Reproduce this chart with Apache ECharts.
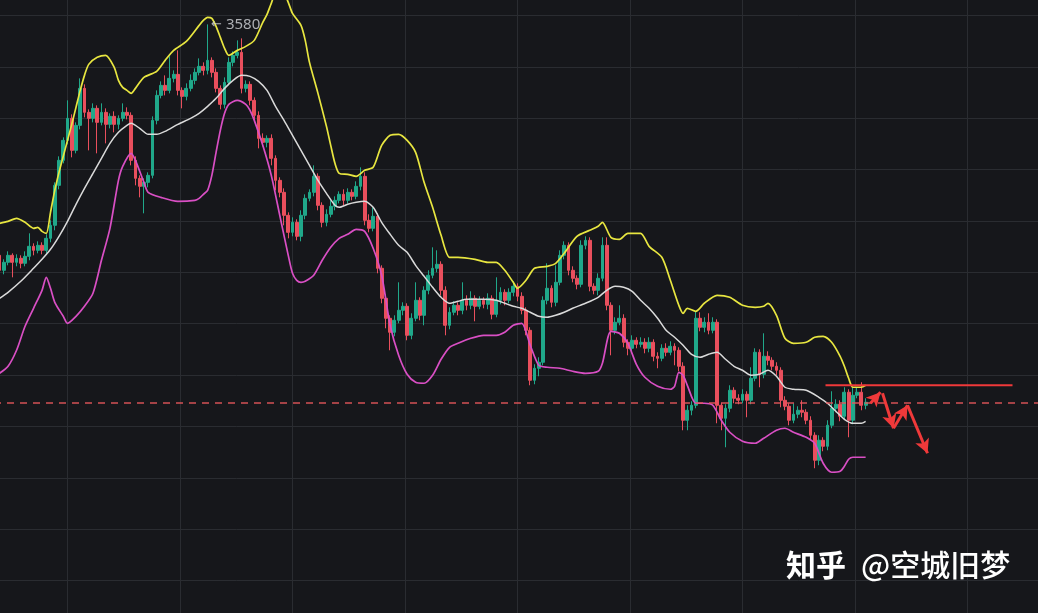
<!DOCTYPE html>
<html>
<head>
<meta charset="utf-8">
<script src="https://cdn.jsdelivr.net/npm/echarts@6/dist/echarts.min.js"></script>
<style>
  html, body { margin: 0; padding: 0; background: #16171b; overflow: hidden; width: 1038px; height: 613px; }
  /* the plot area runs a little past the window so the price grid lines fall on their usual spots */
  #chart { position: absolute; left: -45px; top: -36px; width: 1125px; height: 668px; }
</style>
</head>
<body>
<div id="chart"></div>
<script>
// Candle slots on the time axis; the first drawn candle sits in slot START.
const START = 10;
const SLOTS = 265;

// Price series: each candle opens at the previous close.
const firstOpen = 3118;
const closes = [
  3088, 3104, 3118, 3104, 3112, 3102, 3116, 3136, 3128, 3138,
  3128, 3152, 3178, 3258, 3308, 3348, 3392, 3328, 3378, 3452,
  3404, 3392, 3412, 3384, 3404, 3380, 3396, 3380, 3392, 3404,
  3398, 3308, 3272, 3256, 3264, 3278, 3388, 3438, 3458, 3448,
  3472, 3480, 3448, 3436, 3452, 3468, 3484, 3496, 3488, 3508,
  3484, 3452, 3420, 3464, 3504, 3518, 3524, 3452, 3460, 3428,
  3398, 3352, 3344, 3352, 3312, 3268, 3244, 3198, 3164, 3184,
  3156, 3198, 3232, 3244, 3276, 3218, 3184, 3200, 3216, 3228,
  3240, 3228, 3244, 3236, 3256, 3276, 3188, 3172, 3196, 3092,
  3032, 2992, 2964, 2988, 3008, 3016, 2958, 2992, 3028, 2998,
  3048, 3078, 3092, 3100, 3048, 2978, 3004, 3018, 3008, 3028,
  3018, 3032, 3016, 3028, 3020, 3032, 3000, 3028, 3044, 3028,
  3044, 3056, 3036, 3008, 2968, 2868, 2892, 2904, 3028, 3052,
  3024, 3064, 3118, 3138, 3088, 3072, 3060, 3138, 3148, 3056,
  3048, 3072, 3138, 3018, 2968, 2984, 2992, 2944, 2932, 2948,
  2940, 2944, 2932, 2944, 2916, 2912, 2932, 2924, 2936, 2928,
  2896, 2788, 2808, 2818, 2992, 2974, 2984, 2968, 2984, 2818,
  2792, 2812, 2848, 2832, 2828, 2840, 2828, 2872, 2924, 2880,
  2916, 2908, 2896, 2888, 2828, 2816, 2788, 2800, 2808, 2804,
  2788, 2758, 2708, 2748, 2736, 2778, 2812, 2820, 2796, 2844,
  2788, 2838, 2844, 2818, 2824
];
// Shadow lengths above the body top and below the body bottom.
const wickUp = [
  10, 6, 8, 4, 8, 6, 10, 26, 6, 8,
  6, 8, 10, 6, 8, 6, 36, 8, 6, 20,
  8, 6, 10, 6, 18, 8, 6, 10, 6, 18,
  10, 6, 8, 6, 8, 6, 8, 10, 8, 20,
  44, 8, 48, 6, 10, 12, 8, 16, 8, 72,
  6, 8, 6, 10, 10, 8, 24, 28, 8, 6,
  6, 8, 10, 6, 8, 6, 6, 8, 6, 10,
  6, 10, 8, 6, 22, 6, 6, 10, 12, 8,
  6, 10, 8, 6, 10, 18, 8, 12, 18, 6,
  6, 8, 6, 10, 56, 8, 6, 10, 36, 6,
  8, 10, 42, 28, 6, 8, 10, 8, 6, 36,
  10, 14, 6, 8, 6, 10, 6, 46, 10, 6,
  8, 10, 6, 8, 6, 6, 8, 10, 8, 50,
  6, 34, 10, 8, 6, 8, 6, 10, 8, 6,
  6, 10, 16, 16, 6, 10, 26, 8, 6, 10,
  6, 10, 8, 10, 6, 8, 8, 10, 10, 6,
  6, 8, 10, 8, 14, 12, 10, 18, 10, 6,
  6, 8, 10, 6, 8, 10, 6, 22, 8, 6,
  46, 10, 6, 8, 6, 8, 6, 22, 8, 20,
  6, 8, 6, 10, 6, 10, 34, 10, 8, 10,
  6, 16, 10, 20, 8
];
const wickDown = [
  16, 8, 6, 30, 8, 10, 6, 8, 10, 6,
  8, 6, 8, 10, 8, 6, 8, 14, 6, 8,
  10, 64, 8, 62, 6, 38, 8, 16, 10, 6,
  8, 10, 14, 22, 54, 10, 6, 8, 6, 10,
  6, 8, 10, 24, 8, 6, 8, 6, 10, 8,
  10, 8, 10, 8, 6, 8, 6, 10, 8, 10,
  10, 20, 8, 10, 14, 20, 10, 20, 12, 8,
  8, 10, 8, 6, 8, 10, 10, 8, 6, 8,
  6, 10, 6, 8, 6, 8, 10, 8, 6, 10,
  10, 20, 36, 8, 6, 10, 10, 8, 6, 10,
  20, 8, 6, 8, 10, 20, 8, 6, 10, 8,
  10, 8, 30, 6, 8, 10, 10, 6, 8, 10,
  6, 8, 10, 8, 10, 10, 8, 16, 6, 8,
  10, 8, 6, 8, 10, 8, 10, 6, 8, 10,
  8, 10, 6, 10, 50, 8, 6, 10, 14, 6,
  8, 6, 10, 8, 10, 20, 6, 8, 6, 30,
  10, 20, 20, 10, 6, 8, 10, 8, 6, 36,
  24, 58, 8, 10, 8, 6, 34, 8, 6, 26,
  8, 10, 8, 10, 14, 8, 10, 6, 8, 10,
  8, 10, 16, 10, 10, 8, 6, 8, 10, 6,
  34, 8, 6, 10, 8
];

// Bollinger bands as [slot, price] points.
const upperBand = [
  [10,3182],[12,3186],[14,3192],[16,3184],[18,3172],[19,3174],[20,3166],[21,3162],
  [22,3204],[23,3248],[24,3284],[25,3316],[26,3348],[27,3380],[28,3414],[29,3448],
  [30,3478],[31,3500],[33,3514],[35,3518],[37,3494],[38,3468],[39,3454],[40,3448],
  [41,3442],[42,3452],[44,3474],[47,3486],[49,3508],[51,3528],[54,3546],[57,3578],
  [58,3588],[59,3594],[60,3592],[61,3576],[62,3554],[63,3532],[64,3518],[66,3528],
  [68,3536],[70,3548],[72,3584],[73,3600],[74,3622],[75,3640],[77,3640],[78,3624],
  [79,3602],[81,3578],[82,3548],[83,3504],[85,3442],[87,3376],[88,3338],[89,3302],
  [90,3282],[92,3280],[94,3276],[96,3288],[98,3294],[100,3338],[102,3358],[104,3360],
  [106,3348],[108,3324],[110,3264],[112,3214],[114,3158],[116,3114],[118,3114],[122,3110],
  [125,3104],[127,3104],[129,3088],[131,3064],[132,3052],[134,3068],[136,3092],[139,3096],
  [141,3102],[143,3122],[146,3156],[149,3168],[151,3176],[152,3184],[154,3154],[156,3150],
  [158,3162],[161,3162],[163,3136],[166,3114],[168,3068],[170,3018],[171,3002],[172,3012],
  [174,3006],[176,3022],[179,3038],[182,3034],[185,3018],[188,3014],[190,3016],[191,3022],
  [193,2998],[195,2952],[197,2942],[200,2944],[202,2954],[204,2956],[206,2944],[208,2916],
  [209,2896],[210,2872],[211,2854],[213,2854],[214,2858]
];
const middleBand = [
  [10,3032],[12,3044],[15,3066],[18,3092],[20,3110],[22,3130],[24,3156],[26,3186],
  [28,3220],[30,3252],[32,3282],[34,3312],[36,3342],[38,3364],[40,3378],[41,3382],
  [43,3372],[45,3360],[47,3360],[49,3366],[52,3380],[55,3392],[57,3402],[59,3416],
  [61,3432],[63,3452],[65,3468],[67,3478],[69,3476],[71,3466],[73,3448],[75,3416],
  [77,3388],[79,3358],[81,3328],[83,3298],[85,3268],[87,3242],[89,3218],[90,3214],
  [92,3220],[94,3224],[96,3226],[98,3214],[100,3184],[102,3160],[104,3138],[106,3124],
  [108,3098],[110,3076],[112,3054],[114,3034],[116,3022],[118,3026],[120,3030],[124,3030],
  [127,3028],[129,3022],[131,3016],[133,3012],[135,3004],[137,2996],[139,2994],[141,2998],
  [143,3004],[145,3012],[148,3022],[151,3034],[153,3048],[155,3056],[157,3054],[159,3046],
  [161,3028],[163,3012],[165,2992],[167,2968],[169,2954],[171,2938],[173,2920],[175,2914],
  [177,2920],[179,2924],[181,2910],[183,2896],[185,2888],[187,2878],[189,2880],[191,2888],
  [193,2876],[195,2854],[197,2850],[200,2848],[203,2834],[205,2822],[207,2806],[209,2790],
  [211,2782],[213,2782],[214,2786]
];
const lowerBand = [
  [10,2882],[12,2896],[14,2928],[16,2976],[18,3012],[20,3048],[21,3074],[22,3052],
  [23,3024],[25,2996],[26,2982],[28,2996],[30,3016],[32,3042],[34,3108],[36,3172],
  [38,3268],[39,3296],[41,3322],[42,3308],[44,3264],[45,3244],[48,3234],[52,3226],
  [56,3228],[57,3232],[58,3240],[59,3248],[60,3278],[61,3324],[62,3368],[63,3402],
  [64,3420],[66,3428],[68,3420],[69,3408],[70,3388],[72,3338],[74,3278],[76,3198],
  [78,3118],[79,3082],[80,3068],[81,3064],[82,3066],[84,3078],[86,3108],[88,3134],
  [90,3152],[92,3160],[94,3170],[96,3166],[98,3132],[100,3078],[102,2978],[104,2918],
  [106,2880],[108,2864],[110,2862],[112,2878],[114,2910],[116,2934],[118,2942],[121,2952],
  [124,2958],[127,2958],[129,2964],[131,2978],[133,2982],[135,2938],[137,2898],[139,2894],
  [142,2892],[145,2886],[148,2882],[151,2886],[152,2902],[154,2966],[156,2962],[158,2942],
  [160,2900],[162,2874],[165,2856],[168,2850],[169,2856],[170,2884],[171,2878],[172,2858],
  [174,2822],[176,2822],[178,2818],[180,2788],[182,2764],[185,2746],[188,2742],[190,2752],
  [193,2768],[195,2772],[197,2764],[200,2754],[202,2742],[204,2702],[206,2684],[208,2686],
  [209,2696],[210,2710],[211,2714],[214,2714]
];

// Drawn annotations: resistance level and the expected path (slot, price pairs).
const resistance = [[204.55, 2858], [248.6, 2858]];
const pathArrows = [
  [215.15, 2822, 217.5, 2844],
  [217.98, 2842, 220.57, 2772],
  [220.57, 2772, 223.87, 2818],
  [223.87, 2818, 228.58, 2722]
];
const watermark = ['知乎', '@空城旧梦'];

const UP = '#20a88a';
const DOWN = '#e94f5d';

const candles = [];
let prevClose = firstOpen;
for (let j = 0; j < closes.length; j++) {
  const o = prevClose, c = closes[j];
  const hi = Math.max(o, c) + wickUp[j];
  const lo = Math.min(o, c) - wickDown[j];
  candles.push([START + j, o, c, lo, hi]);
  prevClose = c;
}
let peak = candles[0];
candles.forEach(function (d) { if (d[4] > peak[4]) peak = d; });
const lastClose = candles[candles.length - 1][2];
const slotNames = Array.from({ length: SLOTS }, function (_, i) { return String(i); });

const gridLine = { show: true, lineStyle: { color: '#2a2c31', width: 1 } };

function band(data, color, width) {
  return {
    type: 'line', xAxisIndex: 2, yAxisIndex: 0, data: data,
    showSymbol: false, symbol: 'none', smooth: 0.25, silent: true,
    lineStyle: { color: color, width: width }, z: 3
  };
}

// offset of the page window inside the chart canvas
const OX = 45, OY = 36;

const chart = echarts.init(document.getElementById('chart'));
chart.setOption({
  animation: false,
  backgroundColor: '#16171b',
  grid: { left: 0, right: 0, top: 0, bottom: 0, containLabel: false },
  xAxis: [
    { type: 'category', data: slotNames, boundaryGap: true, show: false },
    { type: 'value', min: 0, max: 10, interval: 1,
      axisLine: { show: false }, axisTick: { show: false }, axisLabel: { show: false },
      splitLine: gridLine },
    { type: 'value', min: -0.5, max: SLOTS - 0.5, show: false }
  ],
  yAxis: [
    { type: 'value', min: 2364.4, max: 3700.8, interval: 102.8,
      axisLine: { show: false }, axisTick: { show: false }, axisLabel: { show: false },
      splitLine: gridLine }
  ],
  graphic: [
    { type: 'text', left: 786 + OX, top: 550 + OY, z: 100,
      style: { text: watermark[0], fill: '#ffffff', font: 'bold 30px "Noto Sans CJK SC"' } },
    { type: 'text', left: 861 + OX, top: 550 + OY, z: 100,
      style: { text: watermark[1], fill: '#ffffff', font: '500 30px "Noto Sans CJK SC"' } }
  ],
  series: [
    {
      type: 'candlestick', xAxisIndex: 0, yAxisIndex: 0,
      data: candles, encode: { x: 0, y: [1, 2, 3, 4] },
      barWidth: 3.3, silent: true,
      itemStyle: { color: UP, color0: DOWN, borderColor: UP, borderColor0: DOWN, borderWidth: 1 },
      markLine: {
        silent: true, symbol: 'none', label: { show: false },
        lineStyle: { color: 'rgba(232,88,92,0.9)', width: 1.5, type: [7, 6] },
        data: [{ yAxis: lastClose }]
      },
      z: 2
    },
    band(upperBand, '#e8e640', 1.7),
    band(middleBand, '#dadada', 1.5),
    band(lowerBand, '#d94fc4', 1.7),
    {
      type: 'scatter', xAxisIndex: 0, yAxisIndex: 0,
      data: [[peak[0], peak[4]]], symbolSize: 1, silent: true,
      itemStyle: { color: 'rgba(0,0,0,0)' },
      label: {
        show: true, position: 'right', distance: 3,
        formatter: function (p) { return '{a|\u2190} ' + p.value[1]; },
        color: '#d2d5da', fontSize: 15, fontFamily: 'Noto Sans',
        rich: { a: { fontFamily: 'DejaVu Sans', fontSize: 13, color: '#d2d5da' } }
      },
      z: 5
    },
    {
      type: 'line', xAxisIndex: 2, yAxisIndex: 0, data: resistance,
      showSymbol: false, symbol: 'none', silent: true,
      lineStyle: { color: '#f0393a', width: 2.2 }, z: 6,
      markLine: {
        silent: true, symbol: ['none', 'arrow'], symbolSize: [11, 14],
        label: { show: false },
        lineStyle: { color: '#f0393a', width: 3, type: 'solid' },
        data: pathArrows.map(function (a) {
          return [{ coord: [a[0], a[1]] }, { coord: [a[2], a[3]] }];
        })
      }
    }
  ]
});
</script>
</body>
</html>
